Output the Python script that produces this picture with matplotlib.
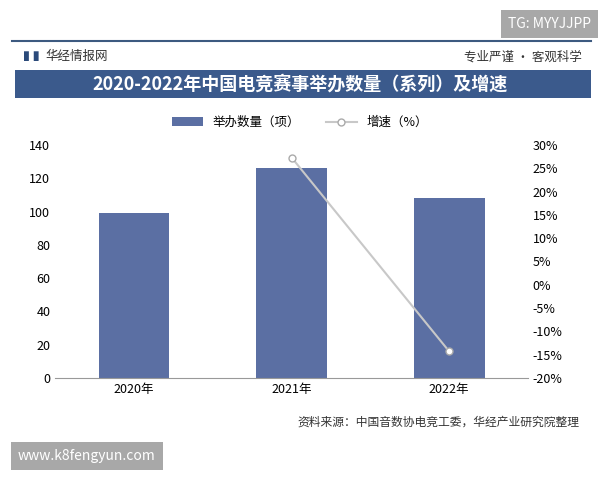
import matplotlib
matplotlib.use('Agg')
import matplotlib.pyplot as plt
from matplotlib.patches import Rectangle

plt.rcParams['font.family'] = ['Noto Sans CJK SC', 'DejaVu Sans']

years = ['2020年', '2021年', '2022年']
counts = [99, 126, 108]
growth_years = ['2021年', '2022年']
growth = [27.3, -14.3]

fig = plt.figure(figsize=(6, 4.8), dpi=100)
fig.patch.set_facecolor('white')

# header
fig.add_artist(plt.Line2D([0.02, 0.985], [0.915, 0.915], color='#3d5a80', lw=1.5))
fig.text(0.075, 0.882, '华经情报网', fontsize=9, color='#333333', va='center')
fig.text(0.04, 0.882, '▌▌', fontsize=7, color='#2b4a7a', va='center')
fig.text(0.97, 0.882, '专业严谨 • 客观科学', fontsize=9, color='#333333', va='center', ha='right')
fig.add_artist(Rectangle((0.025, 0.795), 0.96, 0.06, transform=fig.transFigure,
                         facecolor='#3b5a8c', edgecolor='none'))
fig.text(0.5, 0.825, '2020-2022年中国电竞赛事举办数量（系列）及增速', fontsize=13,
         color='white', fontweight='bold', ha='center', va='center')

ax = fig.add_axes([0.092, 0.2125, 0.788, 0.4855])
x = range(len(years))
bars = ax.bar(x, counts, width=0.45, color='#5b6fa3', label='举办数量（项）')
ax.set_ylim(0, 140)
ax.set_yticks(range(0, 141, 20))
ax.set_xticks(list(x))
ax.set_xticklabels(years, fontsize=9)
ax.set_xlim(-0.5, 2.5)
ax.tick_params(axis='y', labelsize=9, length=0)
ax.tick_params(axis='x', length=0)
for s in ['top', 'right', 'left']:
    ax.spines[s].set_visible(False)
ax.spines['bottom'].set_color('#999999')

ax2 = ax.twinx()
gx = [years.index(y) for y in growth_years]
line, = ax2.plot(gx, growth, color='#c8c8c8', lw=1.5, marker='o', markersize=5,
                 markerfacecolor='white', markeredgecolor='#aaaaaa', label='增速（%）')
ax2.set_ylim(-20, 30)
ax2.set_yticks(range(-20, 31, 5))
ax2.set_yticklabels([f'{v}%' for v in range(-20, 31, 5)], fontsize=9)
ax2.tick_params(axis='y', length=0)
for s in ['top', 'right', 'left', 'bottom']:
    ax2.spines[s].set_visible(False)

fig.legend([bars, line], ['举办数量（项）', '增速（%）'], loc='center',
           bbox_to_anchor=(0.5, 0.745), ncol=2, frameon=False, fontsize=9,
           handlelength=2.5, columnspacing=2)

fig.text(0.965, 0.12, '资料来源：中国音数协电竞工委，华经产业研究院整理', fontsize=8.5,
         color='#333333', ha='right', va='center')

# watermarks
fig.text(0.985, 0.95, 'TG: MYYJJPP', fontsize=10, color='white', ha='right', va='center',
         bbox=dict(facecolor='#a8a8a8', edgecolor='none', pad=5))
fig.text(0.03, 0.05, 'www.k8fengyun.com', fontsize=10, color='white', ha='left', va='center',
         bbox=dict(facecolor='#a8a8a8', edgecolor='none', pad=5))

fig.savefig('out.png', dpi=100)
